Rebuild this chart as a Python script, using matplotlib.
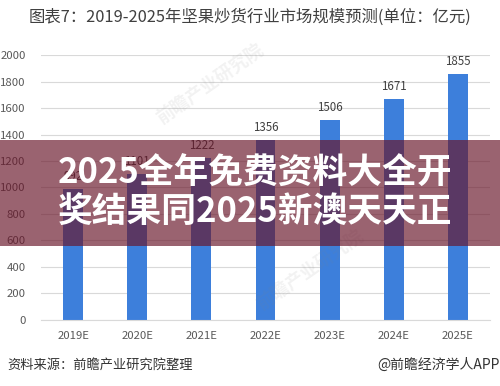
import matplotlib
matplotlib.use('Agg')
import matplotlib.pyplot as plt
from matplotlib.patches import Rectangle

plt.rcParams['font.family'] = ['Noto Sans CJK SC', 'DejaVu Sans']

# 数据
years = ['2019E', '2020E', '2021E', '2022E', '2023E', '2024E', '2025E']
values = [992, 1101, 1222, 1356, 1506, 1671, 1855]
yticks = list(range(0, 2001, 200))

title = '图表7：2019-2025年坚果炒货行业市场规模预测(单位：亿元)'
source = '资料来源：前瞻产业研究院整理'
brand = '@前瞻经济学人APP'
banner = ['2025全年免费资料大全开', '奖结果同2025新澳天天正']
watermark = '前瞻产业研究院'

fig = plt.figure(figsize=(5, 3.86), dpi=100)
ax = fig.add_axes([0.082, 0.171, 0.898, 0.6865])

x = range(len(years))
ax.bar(x, values, width=0.31, color='#3d7fdb', zorder=2)
for i, v in zip(x, values):
    ax.text(i, v + 45, str(v), ha='center', va='bottom', fontsize=8.3, color='#404040')

ax.set_ylim(0, 2000)
ax.set_xlim(-0.5, len(years) - 0.5)
ax.set_yticks(yticks)
ax.set_xticks(list(x))
ax.set_xticklabels(years)
ax.tick_params(axis='both', length=0, labelsize=8.2, labelcolor='#595959')
ax.tick_params(axis='y', pad=11)
ax.tick_params(axis='x', pad=8)
ax.grid(axis='y', color='#d9d9d9', linewidth=0.8, zorder=0)
for s in ['top', 'right', 'left']:
    ax.spines[s].set_visible(False)
ax.spines['bottom'].set_color('#d9d9d9')

# 水印
for wx, wy in [(0.42, 0.78), (0.62, 0.30)]:
    fig.text(wx, wy, watermark, ha='center', va='center', fontsize=13, rotation=35,
             color='#808080', alpha=0.10, fontweight='bold', zorder=1)

fig.text(0.5, 0.955, title, ha='center', va='center', fontsize=11.8, color='#404040')
fig.text(0.014, 0.055, source, ha='left', va='center', fontsize=9.5, color='#333333')
fig.text(0.999, 0.055, brand, ha='right', va='center', fontsize=10, color='#333333')

# 覆盖横幅
fig.patches.append(Rectangle((0, 1 - 246 / 386), 1, 106 / 386, transform=fig.transFigure,
                             facecolor='#69162a', alpha=0.67, edgecolor='none', zorder=5))
fig.text(0.116, 1 - 173 / 386, banner[0], ha='left', va='center', fontsize=25,
         fontweight='bold', color='white', zorder=6)
fig.text(0.116, 1 - 211 / 386, banner[1], ha='left', va='center', fontsize=25,
         fontweight='bold', color='white', zorder=6)

fig.savefig('out.png', dpi=100)
